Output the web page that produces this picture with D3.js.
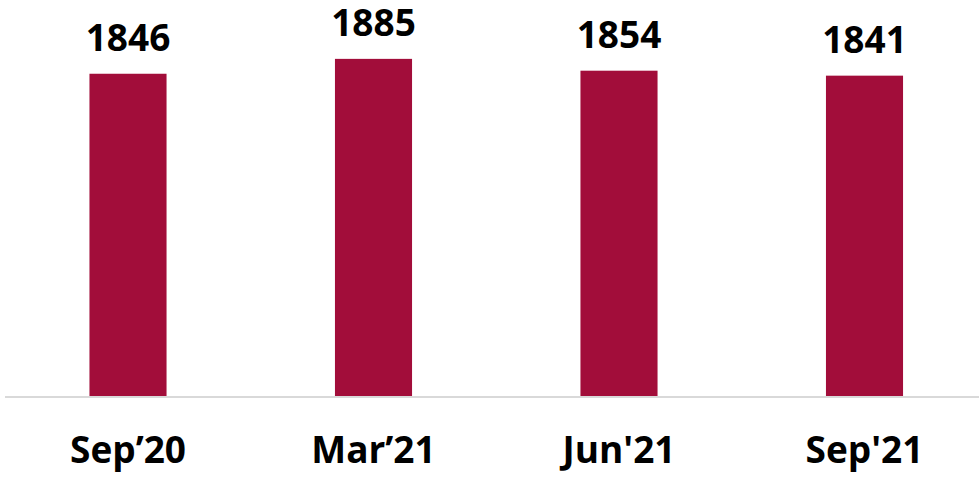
<!DOCTYPE html>
<html>
<head>
<meta charset="utf-8">
<script src="https://cdn.jsdelivr.net/npm/d3@7"></script>
<style>
  html, body { margin: 0; padding: 0; background: #ffffff; }
  svg { display: block; }
</style>
</head>
<body>
<svg id="chart" width="979" height="477"></svg>
<script>
const categories = ["Sep\u201920", "Mar\u201921", "Jun'21", "Sep'21"];
const values = [1846, 1885, 1854, 1841];
const yDomain = [1000, 2000];

const W = 979, H = 477;
const svg = d3.select("#chart");

const x = d3.scaleBand()
  .domain(categories)
  .range([5.25, 987.25])
  .paddingInner(0.686)
  .paddingOuter(0.343);

const y = d3.scaleLinear()
  .domain(yDomain)
  .range([396.5, 15.0]);

const barColor = "#A20D3A";
const font = "'Open Sans', 'Liberation Sans', sans-serif";

// bars
svg.append("g").selectAll("rect")
  .data(values)
  .join("rect")
  .attr("x", (d, i) => x(categories[i]))
  .attr("width", x.bandwidth())
  .attr("y", d => y(d))
  .attr("height", d => y(yDomain[0]) - y(d))
  .attr("fill", barColor);

// baseline axis
const xAxis = d3.axisBottom(x).tickSize(0);
const gx = svg.append("g")
  .attr("transform", `translate(0,${y(yDomain[0]) + 0.5})`)
  .call(xAxis);
gx.select(".domain").remove();
gx.append("line")
  .attr("x1", 5).attr("x2", W)
  .attr("y1", 0).attr("y2", 0)
  .attr("stroke", "#d9d9d9")
  .attr("stroke-width", 2);
gx.selectAll(".tick text")
  .attr("font-family", font)
  .attr("font-weight", 700)
  .attr("font-size", 37)
  .attr("fill", "#000000")
  .attr("y", 66)
  .attr("dy", 0);

// value labels
svg.append("g").selectAll("text")
  .data(values)
  .join("text")
  .attr("x", (d, i) => x(categories[i]) + x.bandwidth() / 2)
  .attr("y", d => y(d) - 23)
  .attr("text-anchor", "middle")
  .attr("font-family", font)
  .attr("font-weight", 700)
  .attr("font-size", 37)
  .attr("fill", "#000000")
  .text(d => d);
</script>
</body>
</html>
